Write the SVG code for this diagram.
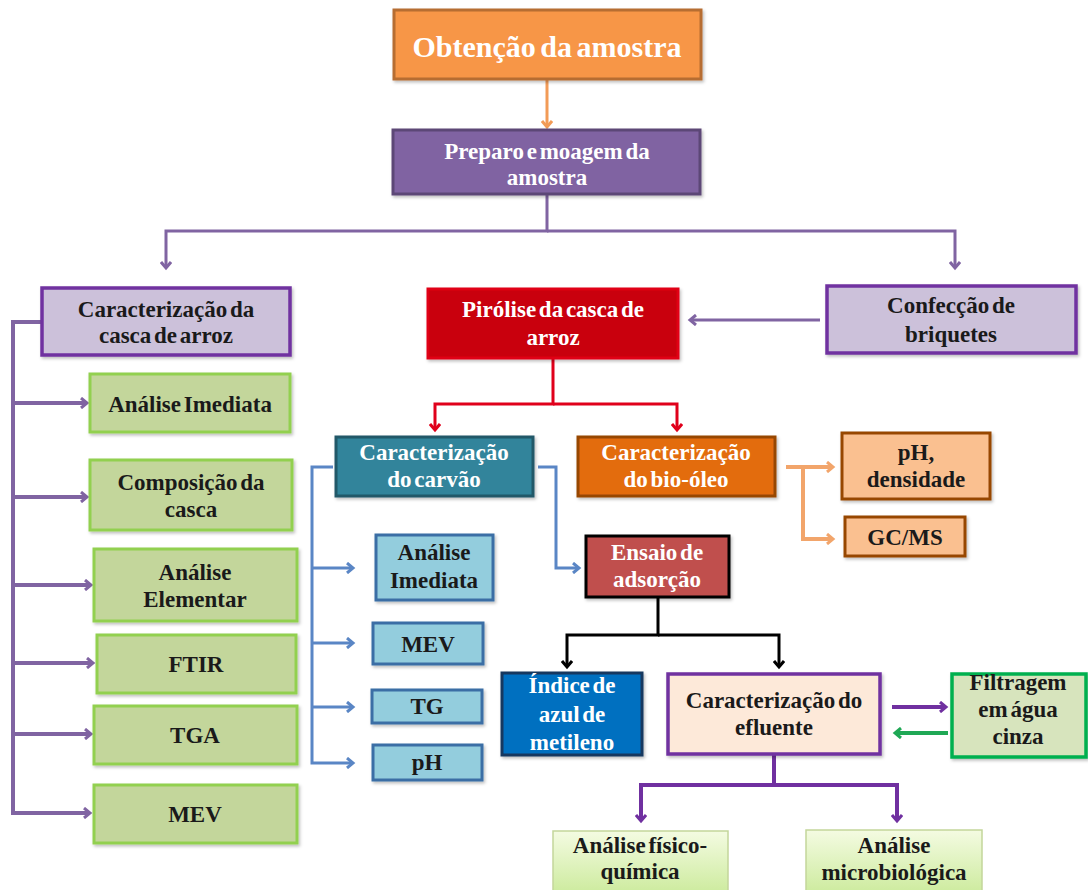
<svg xmlns="http://www.w3.org/2000/svg" width="1088" height="890" viewBox="0 0 1088 890" font-family="Liberation Serif, Times New Roman, serif">
<defs>
<style>
text{font-weight:bold;text-anchor:middle;font-size:23px;word-spacing:-3px}
.w{fill:#ffffff}
.k{fill:#1a1a1a}
.c{fill:none;stroke-linejoin:miter}
</style>
<filter id="sh" x="-10%" y="-10%" width="125%" height="130%"><feDropShadow dx="1.5" dy="2" stdDeviation="1.5" flood-color="#000" flood-opacity="0.25"/></filter>
<linearGradient id="lg" x1="0" y1="0" x2="0" y2="1"><stop offset="0" stop-color="#F4FBE2"/><stop offset="1" stop-color="#CDEB9E"/></linearGradient>
<marker id="mO" markerWidth="12" markerHeight="12" refX="9" refY="6" orient="auto" markerUnits="userSpaceOnUse"><path d="M3,1 L9,6 L3,11" fill="none" stroke="#F29B57" stroke-width="3"/></marker>
<marker id="mP" markerWidth="12" markerHeight="12" refX="9" refY="6" orient="auto" markerUnits="userSpaceOnUse"><path d="M3,1 L9,6 L3,11" fill="none" stroke="#8064A2" stroke-width="3"/></marker>
<marker id="mV" markerWidth="12" markerHeight="12" refX="9" refY="6" orient="auto" markerUnits="userSpaceOnUse"><path d="M3,1 L9,6 L3,11" fill="none" stroke="#7030A0" stroke-width="3"/></marker>
<marker id="mR" markerWidth="12" markerHeight="12" refX="9" refY="6" orient="auto" markerUnits="userSpaceOnUse"><path d="M3,1 L9,6 L3,11" fill="none" stroke="#E0001B" stroke-width="3"/></marker>
<marker id="mB" markerWidth="12" markerHeight="12" refX="9" refY="6" orient="auto" markerUnits="userSpaceOnUse"><path d="M3,1 L9,6 L3,11" fill="none" stroke="#5A86C5" stroke-width="3"/></marker>
<marker id="mK" markerWidth="12" markerHeight="12" refX="9" refY="6" orient="auto" markerUnits="userSpaceOnUse"><path d="M3,1 L9,6 L3,11" fill="none" stroke="#000" stroke-width="3"/></marker>
<marker id="mA" markerWidth="12" markerHeight="12" refX="9" refY="6" orient="auto" markerUnits="userSpaceOnUse"><path d="M3,1 L9,6 L3,11" fill="none" stroke="#F2A56B" stroke-width="3"/></marker>
<marker id="mG" markerWidth="12" markerHeight="12" refX="9" refY="6" orient="auto" markerUnits="userSpaceOnUse"><path d="M3,1 L9,6 L3,11" fill="none" stroke="#1FA855" stroke-width="3"/></marker>
</defs>
<rect width="1088" height="890" fill="#ffffff"/>

<g id="connectors">
<path class="c" d="M547,80 V127" stroke="#F29B57" stroke-width="3" marker-end="url(#mO)"/>
<path class="c" d="M547,194 V231 H166 V268" stroke="#8064A2" stroke-width="3" marker-end="url(#mP)"/>
<path class="c" d="M547,231 H955 V268" stroke="#8064A2" stroke-width="3" marker-end="url(#mP)"/>
<path class="c" d="M820,320 H690" stroke="#8064A2" stroke-width="3" marker-end="url(#mP)"/>
<path class="c" d="M42,322 H13 V813 H90" stroke="#8064A2" stroke-width="4" marker-end="url(#mP)"/>
<path class="c" d="M13,403 H87" stroke="#8064A2" stroke-width="4" marker-end="url(#mP)"/>
<path class="c" d="M13,497 H87" stroke="#8064A2" stroke-width="4" marker-end="url(#mP)"/>
<path class="c" d="M13,585 H91" stroke="#8064A2" stroke-width="4" marker-end="url(#mP)"/>
<path class="c" d="M13,663 H93" stroke="#8064A2" stroke-width="4" marker-end="url(#mP)"/>
<path class="c" d="M13,734 H91" stroke="#8064A2" stroke-width="4" marker-end="url(#mP)"/>
<path class="c" d="M553,358 V404 H435 V430" stroke="#E0001B" stroke-width="3" marker-end="url(#mR)"/>
<path class="c" d="M553,404 H677 V430" stroke="#E0001B" stroke-width="3" marker-end="url(#mR)"/>
<path class="c" d="M333,467 H312 V763 H353" stroke="#5A86C5" stroke-width="3" marker-end="url(#mB)"/>
<path class="c" d="M312,568 H353" stroke="#5A86C5" stroke-width="3" marker-end="url(#mB)"/>
<path class="c" d="M312,643 H353" stroke="#5A86C5" stroke-width="3" marker-end="url(#mB)"/>
<path class="c" d="M312,707 H353" stroke="#5A86C5" stroke-width="3" marker-end="url(#mB)"/>
<path class="c" d="M538,467 H556 V568 H579" stroke="#5A86C5" stroke-width="3" marker-end="url(#mB)"/>
<path class="c" d="M786,467 H833" stroke="#F2A56B" stroke-width="4" marker-end="url(#mA)"/>
<path class="c" d="M803,467 V539 H833" stroke="#F2A56B" stroke-width="4" marker-end="url(#mA)"/>
<path class="c" d="M658,597 V635 H567 V667" stroke="#000" stroke-width="3" marker-end="url(#mK)"/>
<path class="c" d="M658,635 H779 V667" stroke="#000" stroke-width="3" marker-end="url(#mK)"/>
<path class="c" d="M892,707 H946" stroke="#7030A0" stroke-width="4" marker-end="url(#mV)"/>
<path class="c" d="M948,733 H895" stroke="#1FA855" stroke-width="4" marker-end="url(#mG)"/>
<path class="c" d="M774,755 V785 H641 V821" stroke="#7030A0" stroke-width="4" marker-end="url(#mV)"/>
<path class="c" d="M774,785 H897 V821" stroke="#7030A0" stroke-width="4" marker-end="url(#mV)"/>
</g>

<g id="obtencao"><rect x="394" y="10" width="307" height="69" fill="#F79646" stroke="#B66D31" stroke-width="3" filter="url(#sh)"/><text class="w" x="547" y="57" style="font-size:30px">Obtenção da amostra</text></g>

<g id="preparo"><rect x="393" y="130" width="307" height="64" fill="#8064A2" stroke="#5C4776" stroke-width="3" filter="url(#sh)"/><text class="w" x="547" y="159">Preparo e moagem da</text><text class="w" x="547" y="185">amostra</text></g>

<g id="casca"><rect x="42" y="288" width="248" height="67" fill="#CCC1DA" stroke="#7030A0" stroke-width="3.5" filter="url(#sh)"/><text class="k" x="166" y="317">Caracterização da</text><text class="k" x="166" y="343">casca de arroz</text></g>

<g id="g-imediata"><rect x="90" y="374" width="200" height="58" fill="#C3D69B" stroke="#92D050" stroke-width="3" filter="url(#sh)"/><text class="k" x="190" y="412">Análise Imediata</text></g>
<g id="g-composicao"><rect x="90" y="460" width="202" height="70" fill="#C3D69B" stroke="#92D050" stroke-width="3" filter="url(#sh)"/><text class="k" x="191" y="490">Composição da</text><text class="k" x="191" y="517">casca</text></g>
<g id="g-elementar"><rect x="94" y="549" width="203" height="72" fill="#C3D69B" stroke="#92D050" stroke-width="3" filter="url(#sh)"/><text class="k" x="195" y="580">Análise</text><text class="k" x="195" y="607">Elementar</text></g>
<g id="g-ftir"><rect x="97" y="635" width="199" height="58" fill="#C3D69B" stroke="#92D050" stroke-width="3" filter="url(#sh)"/><text class="k" x="196" y="672">FTIR</text></g>
<g id="g-tga"><rect x="94" y="706" width="203" height="58" fill="#C3D69B" stroke="#92D050" stroke-width="3" filter="url(#sh)"/><text class="k" x="195" y="743">TGA</text></g>
<g id="g-mev"><rect x="94" y="785" width="203" height="58" fill="#C3D69B" stroke="#92D050" stroke-width="3" filter="url(#sh)"/><text class="k" x="195" y="822">MEV</text></g>

<g id="pirolise"><rect x="428" y="289" width="250" height="69" fill="#C9000A" stroke="#E00012" stroke-width="3" filter="url(#sh)"/><text class="w" x="553" y="317">Pirólise da casca de</text><text class="w" x="553" y="345">arroz</text></g>

<g id="briquetes"><rect x="827" y="286" width="249" height="67" fill="#CCC1DA" stroke="#7030A0" stroke-width="3.5" filter="url(#sh)"/><text class="k" x="951" y="313">Confecção de</text><text class="k" x="951" y="342">briquetes</text></g>

<g id="carvao"><rect x="336" y="437" width="197" height="59" fill="#31849B" stroke="#215968" stroke-width="3" filter="url(#sh)"/><text class="w" x="434" y="460">Caracterização</text><text class="w" x="434" y="487">do carvão</text></g>

<g id="biooleo"><rect x="578" y="437" width="197" height="59" fill="#E36C09" stroke="#974706" stroke-width="3" filter="url(#sh)"/><text class="w" x="676" y="460">Caracterização</text><text class="w" x="676" y="487">do bio-óleo</text></g>

<g id="ph-densidade"><rect x="842" y="433" width="148" height="66" fill="#FAC090" stroke="#974706" stroke-width="3" filter="url(#sh)"/><text class="k" x="916" y="460">pH,</text><text class="k" x="916" y="487">densidade</text></g>
<g id="gcms"><rect x="845" y="517" width="120" height="39" fill="#FAC090" stroke="#974706" stroke-width="3" filter="url(#sh)"/><text class="k" x="905" y="545">GC/MS</text></g>

<g id="b-imediata"><rect x="376" y="535" width="117" height="65" fill="#93CDDD" stroke="#3A6EA5" stroke-width="3" filter="url(#sh)"/><text class="k" x="434" y="560">Análise</text><text class="k" x="434" y="588">Imediata</text></g>
<g id="b-mev"><rect x="373" y="623" width="110" height="41" fill="#93CDDD" stroke="#3A6EA5" stroke-width="3" filter="url(#sh)"/><text class="k" x="428" y="652">MEV</text></g>
<g id="b-tg"><rect x="372" y="690" width="110" height="33" fill="#93CDDD" stroke="#3A6EA5" stroke-width="3" filter="url(#sh)"/><text class="k" x="427" y="714">TG</text></g>
<g id="b-ph"><rect x="373" y="745" width="109" height="35" fill="#93CDDD" stroke="#3A6EA5" stroke-width="3" filter="url(#sh)"/><text class="k" x="427" y="770">pH</text></g>

<g id="ensaio"><rect x="586" y="536" width="143" height="61" fill="#C0504D" stroke="#000000" stroke-width="3" filter="url(#sh)"/><text class="w" x="657" y="560">Ensaio de</text><text class="w" x="657" y="587">adsorção</text></g>

<g id="indice"><rect x="502" y="673" width="140" height="82" fill="#0070C0" stroke="#17375E" stroke-width="3" filter="url(#sh)"/><text class="w" x="572" y="693">Índice de</text><text class="w" x="572" y="722">azul de</text><text class="w" x="572" y="750">metileno</text></g>

<g id="efluente"><rect x="668" y="674" width="212" height="80" fill="#FDE9D9" stroke="#7030A0" stroke-width="3.5" filter="url(#sh)"/><text class="k" x="774" y="708">Caracterização do</text><text class="k" x="774" y="735">efluente</text></g>

<g id="filtragem"><rect x="952" y="674" width="134" height="83" fill="#D7E4BD" stroke="#00B050" stroke-width="3.5" filter="url(#sh)"/><text class="k" x="1018" y="690">Filtragem</text><text class="k" x="1018" y="717">em água</text><text class="k" x="1018" y="744">cinza</text></g>

<g id="fisico-quimica"><rect x="553" y="831" width="175" height="62" fill="url(#lg)" stroke="#C3D69B" stroke-width="1.5"/><text class="k" x="640" y="853">Análise físico-</text><text class="k" x="640" y="879">química</text></g>

<g id="microbiologica"><rect x="806" y="830" width="176" height="63" fill="url(#lg)" stroke="#C3D69B" stroke-width="1.5"/><text class="k" x="894" y="853">Análise</text><text class="k" x="894" y="880">microbiológica</text></g>
</svg>
